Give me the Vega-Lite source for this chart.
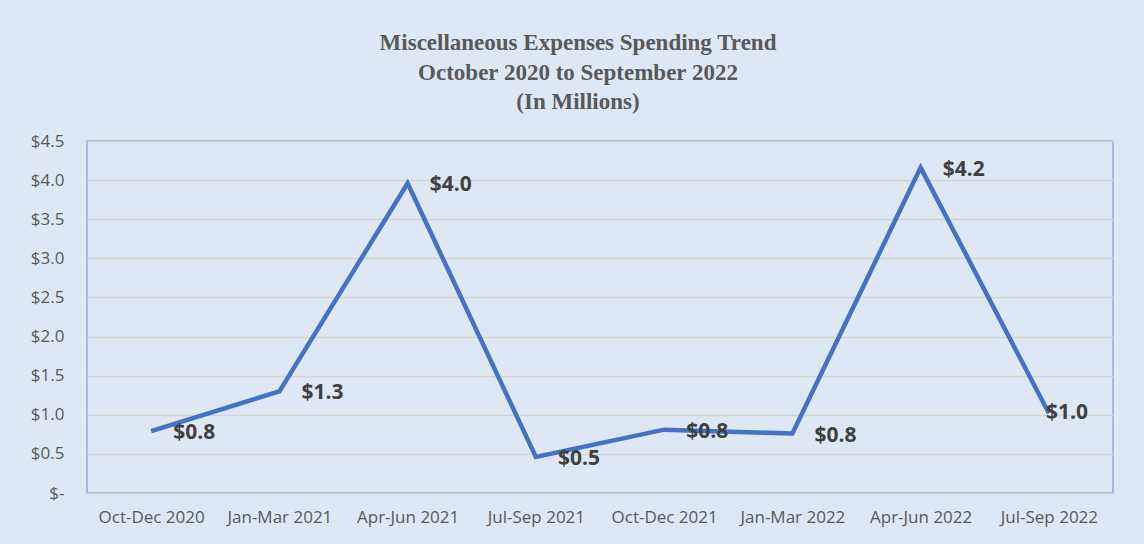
{
  "$schema": "https://vega.github.io/schema/vega-lite/v6.json",
  "width": 1026,
  "height": 352,
  "autosize": {"type": "none"},
  "padding": {"left": 87, "top": 141, "right": 31, "bottom": 51},
  "background": "#dee8f4",
  "title": {
    "text": ["Miscellaneous Expenses Spending Trend", "October 2020 to September 2022", "(In Millions)"],
    "font": "Liberation Serif",
    "fontSize": 23,
    "fontWeight": "bold",
    "color": "#595959",
    "lineHeight": 29.5,
    "anchor": "middle",
    "offset": 18,
    "dx": -22
  },
  "config": {
    "view": {"stroke": "#8eaadb", "strokeWidth": 1.5},
    "axis": {"labelFont": "Open Sans", "labelColor": "#595959", "labelFontSize": 17}
  },
  "data": {
    "values": [
      {"quarter": "Oct-Dec 2020", "amount": 0.79},
      {"quarter": "Jan-Mar 2021", "amount": 1.30},
      {"quarter": "Apr-Jun 2021", "amount": 3.96},
      {"quarter": "Jul-Sep 2021", "amount": 0.46},
      {"quarter": "Oct-Dec 2021", "amount": 0.81},
      {"quarter": "Jan-Mar 2022", "amount": 0.76},
      {"quarter": "Apr-Jun 2022", "amount": 4.16},
      {"quarter": "Jul-Sep 2022", "amount": 1.02}
    ]
  },
  "encoding": {
    "x": {
      "field": "quarter",
      "type": "ordinal",
      "sort": null,
      "scale": {"type": "point", "padding": 0.5},
      "axis": {"title": null, "labelAngle": 0, "ticks": false, "domain": false, "labelPadding": 16, "grid": false}
    },
    "y": {
      "field": "amount",
      "type": "quantitative",
      "scale": {"domain": [0, 4.5], "nice": false},
      "axis": {
        "title": null,
        "values": [0, 0.5, 1, 1.5, 2, 2.5, 3, 3.5, 4, 4.5],
        "labelExpr": "datum.value == 0 ? '$-\u00a0\u00a0' : '$' + format(datum.value, '.1f')",
        "ticks": false,
        "domain": false,
        "labelPadding": 23,
        "gridColor": "#d6d3cf",
        "gridWidth": 1.5
      }
    }
  },
  "layer": [
    {
      "mark": {"type": "line", "color": "#4472c4", "strokeWidth": 4.5}
    },
    {
      "transform": [{"filter": "datum.quarter != 'Jul-Sep 2022'"}],
      "mark": {"type": "text", "align": "left", "baseline": "middle", "dx": 22, "dy": 2, "font": "Open Sans", "fontSize": 21, "fontWeight": "bold", "color": "#404040"},
      "encoding": {
        "text": {"field": "amount", "type": "quantitative", "format": "$.1f"}
      }
    },
    {
      "transform": [{"filter": "datum.quarter == 'Jul-Sep 2022'"}],
      "mark": {"type": "text", "align": "left", "baseline": "middle", "dx": -3, "dy": 0, "font": "Open Sans", "fontSize": 21, "fontWeight": "bold", "color": "#404040"},
      "encoding": {
        "text": {"field": "amount", "type": "quantitative", "format": "$.1f"}
      }
    }
  ]
}
